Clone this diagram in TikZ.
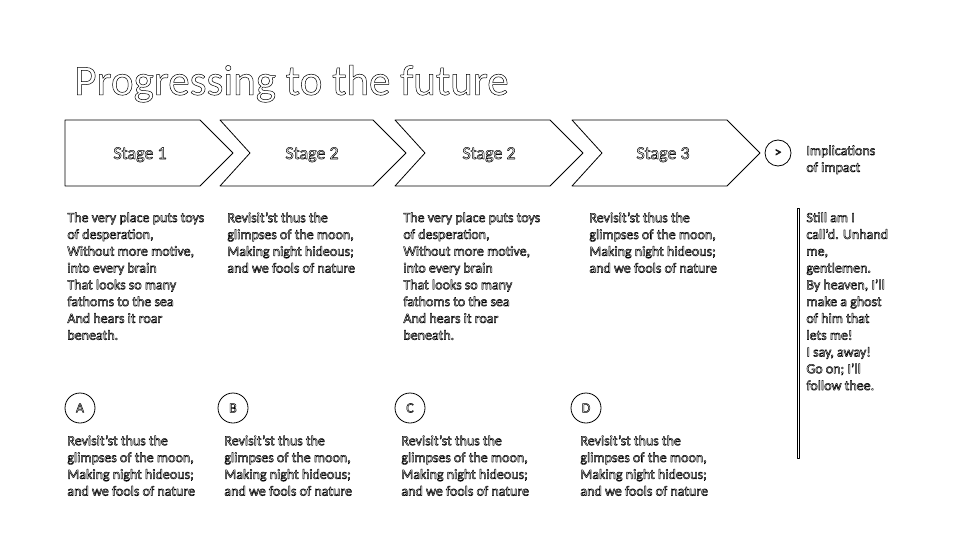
\documentclass[tikz,border=0pt]{standalone}
\usepackage{fontspec}
\setmainfont{Carlito}
% outlined lettering, as on the slide
\newcommand{\hollow}{\special{pdf:literal direct 1 Tr 0.5 w}}
\newcommand{\versea}{The very place puts toys\\of desperation,\\Without more motive,\\into every brain\\That looks so many\\fathoms to the sea\\And hears it roar\\beneath.}
\newcommand{\verseb}{Revisit'st thus the\\glimpses of the moon,\\Making night hideous;\\and we fools of nature}
\begin{document}
\begin{tikzpicture}[x=1pt, y=-1pt, line width=0.8pt, line join=round, font=\fontsize{14}{16.8}\selectfont,
	txt/.style={anchor=north west, align=left, inner sep=0pt},
	badge/.style={draw, circle, minimum size=30pt, inner sep=0pt}]
	\useasboundingbox (0,0) rectangle (960,540);
	\def\ytop{120}\def\ybot{186}\def\ymid{153}
	\node[anchor=base west, inner sep=0pt, font=\fontsize{43}{50}\selectfont] (title) at (74,95) {\hollow Progressing to the future};
	
	% stage arrows
	\draw (65,\ytop)--(200,\ytop)--(233,\ymid)--(200,\ybot)--(65,\ybot)--cycle;
	\foreach \l/\r in {220/373,395/550,572/727}
	\draw (\l,\ytop)--(\r,\ytop)--(\r+33,\ymid)--(\r,\ybot)--(\l,\ybot)--(\l+30,\ymid)--cycle;
	\foreach \x/\t/\n in {140/1/sa,312/2/sb,489/2/sc,663/3/sd}
	\node[anchor=base, inner sep=0pt, font=\fontsize{18}{20}\selectfont] (\n) at (\x,159) {\hollow Stage \t};
	
	\node[badge, minimum size=26pt] (go) at (778,153) {\hollow >};
	\node[txt] (impl) at (806,145) {\hollow Implications\\of impact};
	
	\node[txt] (ta) at (67,212) {\hollow\versea};
	\node[txt] (tb) at (227,212) {\hollow\verseb};
	\node[txt] (tc) at (403,212) {\hollow\versea};
	\node[txt] (td) at (589,212) {\hollow\verseb};
	
	\foreach \x/\t in {80/A,233/B,410/C,586/D}
	\node[badge] (c\t) at (\x,408) {\hollow\t};
	\foreach \x/\t in {67/A,224/B,401/C,580/D}
	\node[txt] (b\t) at (\x,435) {\hollow\verseb};
	
	\draw[fill=white] (797,208) rectangle (799.5,458);
	\node[txt] (quote) at (806,212) {\hollow Still am I\\call'd. Unhand\\me,\\gentlemen.\\By heaven, I'll\\make a ghost\\of him that\\lets me!\\I say, away!\\Go on; I'll\\follow thee.};
\end{tikzpicture}
\end{document}
